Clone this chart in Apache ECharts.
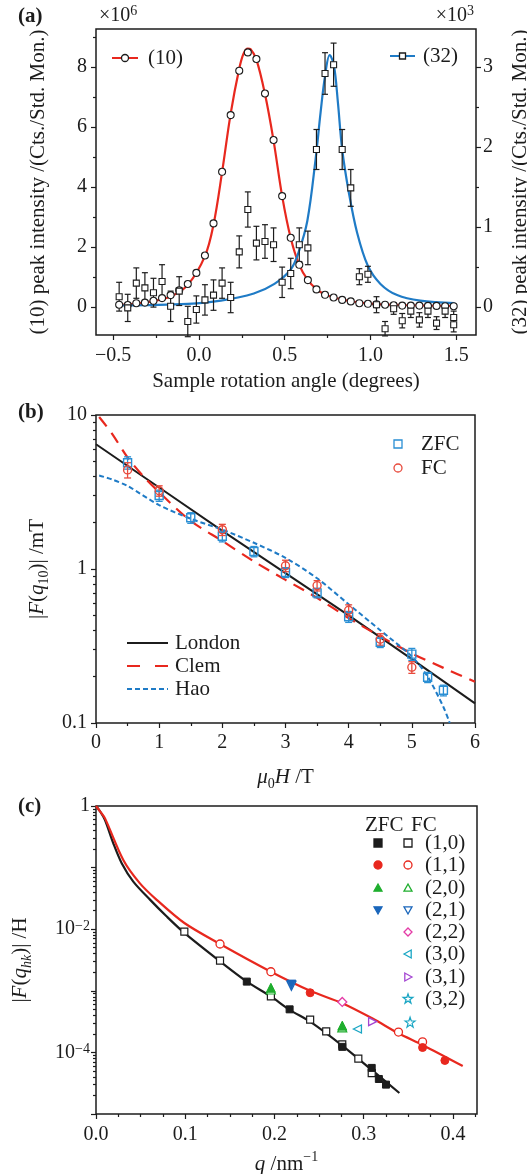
<!DOCTYPE html>
<html><head><meta charset="utf-8">
<script src="https://cdn.jsdelivr.net/npm/echarts@6/dist/echarts.min.js"></script>
<style>html,body{margin:0;padding:0;background:#fff}#c{width:527px;height:1174px}</style>
</head><body><div id="c"></div>
<script>
// ================= DATA =================
// ---- Panel (a) ----
const aAngle = [-0.465,-0.415,-0.365,-0.315,-0.265,-0.215,-0.165,-0.115,-0.065,-0.015,0.035,0.085,0.135,0.185,0.235,0.285,0.335,0.385,0.435,0.485,0.535,0.585,0.635,0.685,0.735,0.785,0.835,0.885,0.935,0.985,1.035,1.085,1.135,1.185,1.235,1.285,1.335,1.385,1.435,1.485];
const a10 = [0.08,0.07,0.13,0.15,0.21,0.30,0.40,0.56,0.77,1.14,1.72,2.79,4.51,6.40,7.88,8.49,8.27,7.12,5.57,3.70,2.31,1.41,0.90,0.59,0.41,0.32,0.24,0.19,0.13,0.11,0.09,0.08,0.06,0.05,0.05,0.05,0.04,0.04,0.03,0.03];
const a32 = [0.13,-0.01,0.30,0.24,0.18,0.32,0.01,0.20,-0.18,-0.03,0.09,0.15,0.30,0.12,0.69,1.22,0.80,0.82,0.78,0.31,0.42,0.78,0.74,1.97,2.92,3.03,1.97,1.49,0.38,0.41,0.03,-0.27,-0.02,-0.17,-0.05,-0.16,-0.05,-0.20,-0.05,-0.22];
const a32Err = [0.18,0.17,0.19,0.19,0.18,0.21,0.19,0.18,0.19,0.17,0.19,0.19,0.19,0.19,0.20,0.22,0.21,0.21,0.21,0.19,0.19,0.21,0.21,0.25,0.26,0.27,0.25,0.23,0.10,0.10,0.10,0.09,0.07,0.09,0.08,0.09,0.08,0.08,0.08,0.09];
const a32ExtraAngle = [1.485];
const a32Extra = [-0.13];
const a32ExtraErr = [0.08];
const aFit10Angle = [-0.465,-0.365,-0.265,-0.165,-0.065,0.035,0.085,0.135,0.185,0.235,0.26,0.285,0.30,0.335,0.385,0.435,0.485,0.535,0.585,0.635,0.685,0.735,0.835,0.935,1.035,1.185,1.335,1.485];
const aFit10 = [0.07,0.12,0.20,0.35,0.74,1.70,2.75,4.50,6.45,7.95,8.45,8.62,8.60,8.25,7.10,5.55,3.70,2.30,1.40,0.90,0.60,0.42,0.25,0.15,0.10,0.07,0.05,0.04];
const aFit32Angle = [-0.465,-0.065,0.128,0.32,0.44,0.535,0.58,0.632,0.68,0.709,0.735,0.762,0.787,0.81,0.835,0.874,0.922,0.984,1.058,1.155,1.29,1.49];
const aFit32 = [0.02,0.04,0.08,0.17,0.29,0.47,0.68,1.08,1.85,2.43,2.89,3.15,3.02,2.56,1.97,1.43,0.93,0.52,0.29,0.15,0.08,0.05];
const aXTicks = [-0.5,0,0.5,1,1.5];
const aXMinor = [-0.25,0.25,0.75,1.25];
const aYLeftTicks = [0,2,4,6,8];
const aYLeftMinor = [1,3,5,7,9];
const aYRightTicks = [0,1,2,3];
const aYRightMinor = [0.5,1.5,2.5];

// ---- Panel (b) ----
const bZFCField = [0.5,1,1.5,2,2.5,3,3.5,4,4.5,5,5.25,5.5];
const bZFC = [4.9,3.0,2.15,1.63,1.30,0.95,0.70,0.49,0.334,0.28,0.198,0.163];
const bZFCErr = [0.45,0.25,0.17,0.13,0.10,0.07,0.05,0.04,0.025,0.025,0.015,0.013];
const bFCField = [0.5,1,2,3,3.5,4,4.5,5];
const bFC = [4.4,3.22,1.80,1.05,0.78,0.54,0.35,0.23];
const bFCErr = [0.5,0.25,0.15,0.09,0.06,0.045,0.03,0.02];
const bLondonField = [0,1,2,3,4,5,6];
const bLondon = [6.46,3.38,1.77,0.94,0.50,0.26,0.134];
const bClemField = [0.05,0.25,0.5,0.75,1,1.5,2,2.5,3,3.5,4,4.5,5,5.5,6];
const bClem = [9.7,7.6,5.3,4.0,3.15,2.05,1.52,1.12,0.85,0.65,0.48,0.365,0.283,0.228,0.185];
const bHaoField = [0.05,0.25,0.5,1,1.5,2,2.5,3,3.5,4,4.5,5,5.25,5.5,5.6];
const bHao = [4.05,3.82,3.46,2.6,2.12,1.80,1.48,1.18,0.87,0.59,0.40,0.27,0.20,0.127,0.1];
const bXTicks = [0,1,2,3,4,5,6];
const bXMinor = [0.5,1.5,2.5,3.5,4.5,5.5];
const bYTicks = [0.1,1,10];

// ---- Panel (c) ----
const cBlackQ = [0,0.005,0.0101,0.0194,0.0288,0.0418,0.0605,0.079,0.099,0.139,0.169,0.196,0.217,0.24,0.276,0.309,0.34];
const cBlack = [1,0.8,0.59,0.248,0.118,0.0593,0.0302,0.0162,0.0087,0.0030,0.00141,0.00081,0.00049,0.000316,0.000129,0.000052,0.0000219];
const cRedQ = [0,0.005,0.0101,0.0306,0.049,0.068,0.099,0.139,0.196,0.24,0.276,0.31,0.339,0.366,0.411];
const cRed = [1,0.8,0.63,0.133,0.056,0.030,0.0126,0.00575,0.00204,0.0010,0.00063,0.000355,0.000204,0.000132,0.000060];
const c10ZFCq = [0.169,0.217,0.276,0.309,0.317,0.325];
const c10ZFC = [0.00141,0.00050,0.000123,0.000056,0.000037,0.000030];
const c10FCq = [0.099,0.139,0.196,0.24,0.258,0.276,0.294,0.309];
const c10FC = [0.0091,0.0031,0.00081,0.00034,0.00022,0.000135,0.000079,0.000046];
const c11ZFCq = [0.24,0.366,0.391];
const c11ZFC = [0.00093,0.00012,0.000074];
const c11FCq = [0.139,0.196,0.339,0.366];
const c11FC = [0.00575,0.00204,0.000214,0.000148];
const c20ZFCq = [0.196,0.276];
const c20ZFC = [0.00112,0.000272];
const c20FCq = [0.196,0.276];
const c20FC = [0.00105,0.000255];
const c21ZFCq = [0.219];
const c21ZFC = [0.00126];
const c21FCq = [0.219];
const c21FC = [0.00120];
const c22FCq = [0.276];
const c22FC = [0.00066];
const c30FCq = [0.293];
const c30FC = [0.00024];
const c31FCq = [0.31];
const c31FC = [0.000316];
const c32FCq = [0.352];
const c32FC = [0.00031];
const cXTicks = [0,0.1,0.2,0.3,0.4];
const cXMinor = [0.025,0.05,0.075,0.125,0.15,0.175,0.225,0.25,0.275,0.325,0.35,0.375,0.425];
const cYTicks = [1e-5,1e-4,1e-3,1e-2,1e-1,1];
const cYLabels = [1e-4,1e-2,1];

// ================= STYLE =================
const FONT = 'Liberation Serif';
const INK = '#1c1c1c';
const RED = '#e8281e', BLUE = '#1f7bc6';
const BRED = '#e84a3c', BBLUE = '#2a8fd4';
const GREEN = '#1fae2e', DBLUE = '#1a66bb', PINK = '#e43aa6', CYAN = '#1aa6c4', PURPLE = '#a446d2';
const STAR = 'path://M0,-10L2.35,-3.24L9.51,-3.09L3.8,1.24L5.88,8.09L0,4L-5.88,8.09L-3.8,1.24L-9.51,-3.09L-2.35,-3.24Z';

function logMinor(decades) {
  const out = [];
  decades.forEach(d => { for (let k = 2; k <= 9; k++) out.push(+(k * d).toPrecision(3)); });
  return out;
}
const zip = (xs, ys) => xs.map((x, i) => [x, ys[i]]);
const zipErr = (xs, ys, es) => xs.map((x, i) => [x, ys[i] - es[i], ys[i] + es[i]]);

const richText = {
  i: {fontStyle: 'italic', fontFamily: FONT, fontSize: 21, color: INK, lineHeight: 28},
  sub: {fontFamily: FONT, fontSize: 14, color: INK, lineHeight: 14, verticalAlign: 'bottom'},
  subi: {fontFamily: FONT, fontSize: 14, fontStyle: 'italic', color: INK, lineHeight: 14, verticalAlign: 'bottom'},
  sup: {fontFamily: FONT, fontSize: 14, color: INK, lineHeight: 14, verticalAlign: 'top'}
};

function axis(o) {
  const a = {
    type: o.type || 'value', gridIndex: o.grid, position: o.pos, min: o.min, max: o.max, offset: 0,
    axisLine: {show: false, onZero: false}, splitLine: {show: false}, minorTick: {show: false}, minorSplitLine: {show: false},
    axisTick: {show: true, inside: false, length: o.tickLen || 5, customValues: o.ticks,
      lineStyle: {color: INK, width: 1.2}},
    axisLabel: o.labels ? {show: true, customValues: o.labels, formatter: o.fmt, margin: o.margin || 8,
      color: INK, fontFamily: FONT, fontSize: 20, rich: o.rich} : {show: false},
    axisPointer: {show: false}, silent: true
  };
  if (o.type === 'log') a.logBase = 10;
  if (o.name) {
    a.name = o.name; a.nameLocation = 'middle'; a.nameGap = o.nameGap;
    if (o.nameRotate !== undefined) a.nameRotate = o.nameRotate;
    a.nameTextStyle = {color: INK, fontFamily: FONT, fontSize: 21, lineHeight: 28, rich: richText};
  }
  return a;
}

function errRender(color, cap, lw) {
  return function (params, api) {
    const x = api.value(0), lo = api.value(1), hi = api.value(2);
    const p1 = api.coord([x, lo]), p2 = api.coord([x, hi]);
    const st = {stroke: color, lineWidth: lw};
    return {type: 'group', children: [
      {type: 'line', shape: {x1: p1[0], y1: p1[1], x2: p2[0], y2: p2[1]}, style: st},
      {type: 'line', shape: {x1: p1[0] - cap, y1: p1[1], x2: p1[0] + cap, y2: p1[1]}, style: st},
      {type: 'line', shape: {x1: p2[0] - cap, y1: p2[1], x2: p2[0] + cap, y2: p2[1]}, style: st}
    ]};
  };
}
function errSeries(xi, yi, data, color, cap, lw) {
  return {type: 'custom', xAxisIndex: xi, yAxisIndex: yi, data: data, renderItem: errRender(color, cap, lw),
    encode: {x: 0, y: [1, 2]}, silent: true, z: 3};
}
function scat(xi, yi, data, symbol, size, fill, stroke, bw, rot, z) {
  return {type: 'scatter', xAxisIndex: xi, yAxisIndex: yi, data: data, symbol: symbol, symbolSize: size,
    symbolRotate: rot || 0, itemStyle: {color: fill, borderColor: stroke, borderWidth: bw, opacity: 1},
    silent: true, z: z || 4, animation: false};
}
function curve(xi, yi, data, color, width, type, smooth) {
  return {type: 'line', xAxisIndex: xi, yAxisIndex: yi, data: data, showSymbol: false, symbol: 'none',
    smooth: smooth, lineStyle: {color: color, width: width, type: type || 'solid'}, silent: true, z: 2, animation: false};
}

// ================= LEGEND GRAPHICS =================
function sym(kind, cx, cy, s, fill, stroke) {
  const h = s / 2, st = {fill: fill, stroke: stroke, lineWidth: 1.3};
  if (kind === 'rect') return {type: 'rect', shape: {x: cx - h, y: cy - h, width: s, height: s}, style: st};
  if (kind === 'circle') return {type: 'circle', shape: {cx: cx, cy: cy, r: h}, style: st};
  if (kind === 'up') return {type: 'polygon', shape: {points: [[cx, cy - h], [cx + h, cy + h * 0.8], [cx - h, cy + h * 0.8]]}, style: st};
  if (kind === 'down') return {type: 'polygon', shape: {points: [[cx, cy + h], [cx + h, cy - h * 0.8], [cx - h, cy - h * 0.8]]}, style: st};
  if (kind === 'left') return {type: 'polygon', shape: {points: [[cx - h, cy], [cx + h * 0.8, cy - h], [cx + h * 0.8, cy + h]]}, style: st};
  if (kind === 'right') return {type: 'polygon', shape: {points: [[cx + h, cy], [cx - h * 0.8, cy - h], [cx - h * 0.8, cy + h]]}, style: st};
  if (kind === 'diamond') return {type: 'polygon', shape: {points: [[cx, cy - h], [cx + h, cy], [cx, cy + h], [cx - h, cy]]}, style: st};
  if (kind === 'star') {
    const pts = [[0,-10],[2.35,-3.24],[9.51,-3.09],[3.8,1.24],[5.88,8.09],[0,4],[-5.88,8.09],[-3.8,1.24],[-9.51,-3.09],[-2.35,-3.24]]
      .map(p => [cx + p[0] * h / 10, cy + p[1] * h / 10]);
    return {type: 'polygon', shape: {points: pts}, style: st};
  }
}
function txt(x, y, text, size, opts) {
  opts = opts || {};
  return {type: 'text', x: x, y: y, silent: true, style: {text: text, fill: INK,
    font: (opts.bold ? 'bold ' : '') + size + 'px "' + FONT + '"', textAlign: opts.align || 'left',
    textVerticalAlign: 'middle', rich: opts.rich}};
}
function ln(x1, y1, x2, y2, color, w, dash) {
  return {type: 'line', silent: true, shape: {x1: x1, y1: y1, x2: x2, y2: y2}, style: {stroke: color, lineWidth: w, lineDash: dash}};
}
const supRich = {sup: {fontFamily: FONT, fontSize: 14, color: INK, lineHeight: 12, verticalAlign: 'top'},
                 base: {fontFamily: FONT, fontSize: 20, color: INK, lineHeight: 24}};

const graphics = [
  txt(18, 17, '(a)', 21, {bold: true}),
  txt(99, 16, '{base|×10}{sup|6}', 20, {rich: supRich}),
  txt(474, 16, '{base|×10}{sup|3}', 20, {rich: supRich, align: 'right'}),
  ln(112, 58, 138, 58, RED, 2), sym('circle', 125, 58, 7, '#fff', INK), txt(148, 58, '(10)', 21),
  ln(390, 56, 415, 56, BLUE, 2), sym('rect', 402.5, 56, 6, '#fff', INK), txt(423, 56, '(32)', 21),
  txt(18, 413, '(b)', 21, {bold: true}),
  sym('rect', 398, 444, 8, 'transparent', BBLUE), txt(421, 444, 'ZFC', 21),
  sym('circle', 398, 468, 8, 'transparent', BRED), txt(421, 468, 'FC', 21),
  ln(127, 643, 168, 643, INK, 2), txt(175, 643, 'London', 21),
  ln(127, 666, 168, 666, RED, 2.2, [13, 15]), txt(175, 666, 'Clem', 21),
  ln(127, 689, 168, 689, BLUE, 2, [5, 3]), txt(175, 689, 'Hao', 21),
  txt(18, 807, '(c)', 21, {bold: true}),
  txt(365, 825, 'ZFC', 21), txt(411, 825, 'FC', 21)
];
const cLeg = [
  ['(1,0)', 'rect', INK, true], ['(1,1)', 'circle', RED, true], ['(2,0)', 'up', GREEN, true], ['(2,1)', 'down', DBLUE, true],
  ['(2,2)', 'diamond', PINK, false], ['(3,0)', 'left', CYAN, false], ['(3,1)', 'right', PURPLE, false], ['(3,2)', 'star', CYAN, false]
];
const cLegY = [843, 865, 888, 910, 932, 954, 977, 999];
cLeg.forEach((r, i) => {
  const y = cLegY[i];
  const s = r[1] === 'star' ? 10 : 8;
  if (r[3]) graphics.push(sym(r[1], 378, y, s, r[2], r[2]));
  graphics.push(sym(r[1], 408, y, s, '#fff', r[2]));
  graphics.push(txt(425, y, r[0], 21));
});

// ================= OPTION =================
const option = {
  animation: false,
  backgroundColor: '#fff',
  textStyle: {fontFamily: FONT},
  grid: [
    {left: 96, top: 29, width: 380, height: 306, show: true, borderColor: INK, borderWidth: 1.5, backgroundColor: 'transparent', outerBoundsMode: 'none', containLabel: false},
    {left: 96, top: 415, width: 379, height: 308, show: true, borderColor: INK, borderWidth: 1.5, backgroundColor: 'transparent', outerBoundsMode: 'none', containLabel: false},
    {left: 96, top: 806, width: 381, height: 308, show: true, borderColor: INK, borderWidth: 1.5, backgroundColor: 'transparent', outerBoundsMode: 'none', containLabel: false}
  ],
  xAxis: [
    axis({grid: 0, pos: 'bottom', min: -0.6, max: 1.615, ticks: aXTicks, labels: aXTicks, margin: 11,
      fmt: v => (v < 0 ? '−' : '') + Math.abs(v).toFixed(1),
      name: 'Sample rotation angle (degrees)', nameGap: 32}),
    axis({grid: 0, pos: 'bottom', min: -0.6, max: 1.615, ticks: aXMinor, tickLen: 3}),
    axis({grid: 1, pos: 'bottom', min: 0, max: 6, ticks: bXTicks, labels: bXTicks, margin: 10,
      fmt: v => String(v), name: '{i|μ}{sub|0}{i|H} /T', nameGap: 40}),
    axis({grid: 1, pos: 'bottom', min: 0, max: 6, ticks: bXMinor, tickLen: 3}),
    axis({grid: 2, pos: 'bottom', min: 0, max: 0.427, ticks: cXTicks, labels: cXTicks, margin: 11,
      fmt: v => v.toFixed(1), name: '{i|q} /nm{sup|−1}', nameGap: 36}),
    axis({grid: 2, pos: 'bottom', min: 0, max: 0.427, ticks: cXMinor, tickLen: 3})
  ],
  yAxis: [
    axis({grid: 0, pos: 'left', min: -0.93, max: 9.27, ticks: aYLeftTicks, labels: aYLeftTicks, margin: 9,
      fmt: v => String(v), name: '(10) peak intensity /(Cts./Std. Mon.)', nameGap: 44, nameRotate: 90}),
    axis({grid: 0, pos: 'right', min: -0.34875, max: 3.47625, ticks: aYRightTicks, labels: aYRightTicks, margin: 7,
      fmt: v => String(v), name: '(32) peak intensity /(Cts./Std. Mon.)', nameGap: 30, nameRotate: 90}),
    axis({grid: 0, pos: 'left', min: -0.93, max: 9.27, ticks: aYLeftMinor, tickLen: 3}),
    axis({grid: 0, pos: 'right', min: -0.34875, max: 3.47625, ticks: aYRightMinor, tickLen: 3}),
    axis({grid: 1, pos: 'left', type: 'log', min: 0.1, max: 10, ticks: bYTicks, labels: bYTicks, margin: 9,
      fmt: v => (v < 1 ? '0.1' : String(Math.round(v))), name: '|{i|F}({i|q}{sub|10})| /mT', nameGap: 45, nameRotate: 90}),
    axis({grid: 1, pos: 'left', type: 'log', min: 0.1, max: 10, ticks: logMinor([0.1, 1]), tickLen: 3}),
    axis({grid: 2, pos: 'left', type: 'log', min: 1e-5, max: 1, ticks: cYTicks, labels: cYLabels, margin: 6,
      fmt: v => { const e = Math.round(Math.log10(v)); return e === 0 ? '1' : '10{sup|−' + (-e) + '}'; },
      rich: {sup: {fontFamily: FONT, fontSize: 14, color: INK, lineHeight: 12, verticalAlign: 'top'}},
      name: '|{i|F}({i|q}{subi|hk})| /H', nameGap: 62, nameRotate: 90}),
    axis({grid: 2, pos: 'left', type: 'log', min: 1e-5, max: 1, ticks: logMinor([1e-5, 1e-4, 1e-3, 1e-2, 1e-1]), tickLen: 3})
  ],
  series: [
    // (a)
    curve(0, 0, zip(aFit10Angle, aFit10), RED, 2.2, 'solid', 0.35),
    curve(0, 1, zip(aFit32Angle, aFit32), BLUE, 2.2, 'solid', 0.35),
    scat(0, 0, zip(aAngle, a10), 'circle', 7, '#fff', INK, 1.1),
    errSeries(0, 1, zipErr(aAngle, a32, a32Err), INK, 3, 1.2),
    errSeries(0, 1, zipErr(a32ExtraAngle, a32Extra, a32ExtraErr), INK, 3, 1.2),
    scat(0, 1, zip(aAngle, a32), 'rect', 6, '#fff', INK, 1.1, 0, 5),
    scat(0, 1, zip(a32ExtraAngle, a32Extra), 'rect', 6, '#fff', INK, 1.1, 0, 5),
    // (b)
    curve(2, 4, zip(bLondonField, bLondon), INK, 2, 'solid', false),
    curve(2, 4, zip(bClemField, bClem), RED, 2.2, [12, 8], 0.3),
    curve(2, 4, zip(bHaoField, bHao), BLUE, 2, [5, 3], 0.3),
    errSeries(2, 4, zipErr(bZFCField, bZFC, bZFCErr), BBLUE, 3.5, 1.3),
    scat(2, 4, zip(bZFCField, bZFC), 'rect', 8, 'transparent', BBLUE, 1.4),
    errSeries(2, 4, zipErr(bFCField, bFC, bFCErr), BRED, 3.5, 1.3),
    scat(2, 4, zip(bFCField, bFC), 'circle', 8, 'transparent', BRED, 1.4),
    // (c)
    curve(4, 6, zip(cBlackQ, cBlack), INK, 2.2, 'solid', 0.3),
    curve(4, 6, zip(cRedQ, cRed), RED, 2.2, 'solid', 0.3),
    scat(4, 6, zip(c10FCq, c10FC), 'rect', 7, '#fff', INK, 1.2),
    scat(4, 6, zip(c10ZFCq, c10ZFC), 'rect', 7, INK, INK, 1),
    scat(4, 6, zip(c11FCq, c11FC), 'circle', 8, '#fff', RED, 1.3),
    scat(4, 6, zip(c11ZFCq, c11ZFC), 'circle', 8, RED, RED, 1),
    scat(4, 6, zip(c20FCq, c20FC), 'triangle', 9, '#fff', GREEN, 1.2),
    scat(4, 6, zip(c20ZFCq, c20ZFC), 'triangle', 9, GREEN, GREEN, 1),
    scat(4, 6, zip(c21FCq, c21FC), 'triangle', 9, '#fff', DBLUE, 1.2, 180),
    scat(4, 6, zip(c21ZFCq, c21ZFC), 'triangle', 9, DBLUE, DBLUE, 1, 180),
    scat(4, 6, zip(c22FCq, c22FC), 'diamond', 9, '#fff', PINK, 1.3),
    scat(4, 6, zip(c30FCq, c30FC), 'triangle', 8, '#fff', CYAN, 1.3, 90),
    scat(4, 6, zip(c31FCq, c31FC), 'triangle', 8, '#fff', PURPLE, 1.3, -90),
    scat(4, 6, zip(c32FCq, c32FC), STAR, 10, '#fff', CYAN, 1.2)
  ],
  graphic: graphics
};
const chart = echarts.init(document.getElementById('c'), null, {renderer: 'canvas'});
chart.setOption(option);
</script></body></html>
